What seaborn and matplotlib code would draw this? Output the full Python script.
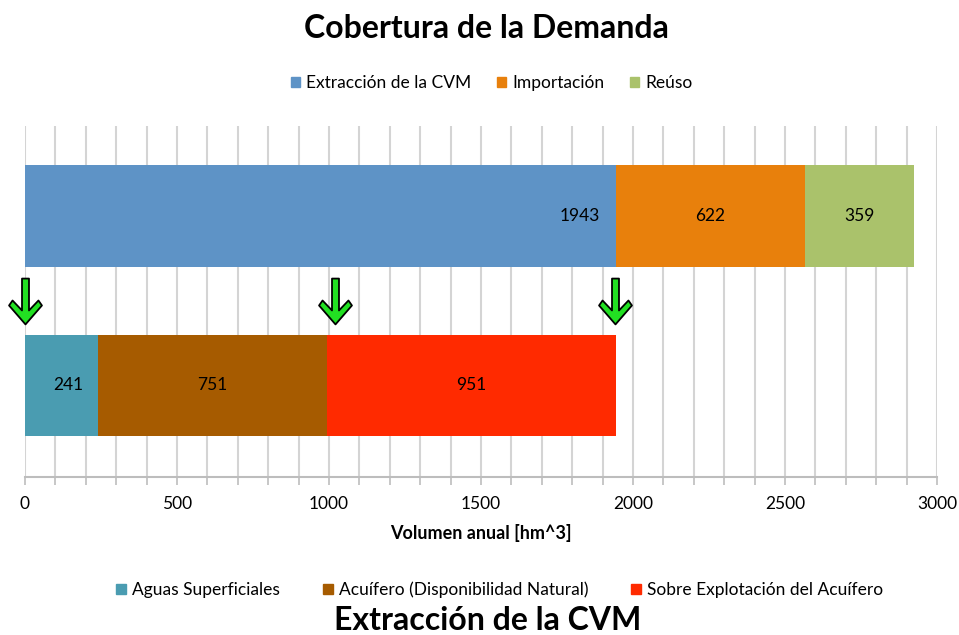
import numpy as np
import pandas as pd
import matplotlib
matplotlib.use("Agg")
import matplotlib.pyplot as plt
from matplotlib.path import Path
from matplotlib.ticker import MultipleLocator
import seaborn as sns

# ---- data ----
rows = ["Cobertura de la Demanda", "Extracción de la CVM"]
cob_labels = ["Extracción de la CVM", "Importación", "Reúso"]
cob_values = [1943, 622, 359]
ext_labels = ["Aguas Superficiales", "Acuífero (Disponibilidad Natural)", "Sobre Explotación del Acuífero"]
ext_values = [241, 751, 951]
arrow_x = [0, 1020, 1940]
x_ticks = [0, 500, 1000, 1500, 2000, 2500, 3000]

cob_colors = ["#5E93C6", "#E8800C", "#AAC26B"]
ext_colors = ["#4A9CB1", "#A65B00", "#FF2A00"]

sns.set_theme(style="white")
plt.rcParams["font.family"] = ["Lato", "DejaVu Sans"]
plt.rcParams["text.color"] = "black"
plt.rcParams["axes.labelcolor"] = "black"
plt.rcParams["xtick.labelcolor"] = "black"

fig = plt.figure(figsize=(9.59, 6.35), dpi=100)
ax = fig.add_axes([25 / 959, 1 - 477 / 635, 912 / 959, 351 / 635])

ax.xaxis.set_minor_locator(MultipleLocator(100))
ax.set_xticks(x_ticks)
ax.grid(True, axis="x", which="both", color="#d4d4d4", lw=1.5, zorder=0)
ax.set_axisbelow(True)

def draw_row(row, labels, values, colors, first_inside_end):
    cum = np.cumsum(values)
    for i in range(len(values) - 1, -1, -1):
        df = pd.DataFrame({"v": [cum[i]], "row": [row]})
        sns.barplot(data=df, x="v", y="row", order=rows, color=colors[i],
                    saturation=1, width=0.6, orient="y", ax=ax,
                    edgecolor="none", linewidth=0, zorder=2)
    starts = np.concatenate([[0], cum[:-1]])
    yi = rows.index(row)
    for i, (s, v) in enumerate(zip(starts, values)):
        if i == 0 and first_inside_end:
            ax.annotate(str(v), xy=(s + v, yi), xytext=(-11, 0),
                        textcoords="offset points", ha="right", va="center",
                        fontsize=12.5, color="black", zorder=5)
        else:
            ax.text(s + v / 2, yi, str(v), ha="center", va="center",
                    fontsize=12.5, color="black", zorder=5)
    return [plt.Rectangle((0, 0), 1, 1, color=c) for c in colors]

h1 = draw_row(rows[0], cob_labels, cob_values, cob_colors, True)
h2 = draw_row(rows[1], ext_labels, ext_values, ext_colors, True)

ax.set_xlim(0, 3000)
ax.set_ylim(1.54, -0.53)
ax.set_ylabel("")
ax.set_yticks([])
ax.set_xlabel("Volumen anual [hm^3]", fontsize=13, fontweight="bold", labelpad=8,
              color="black")
for sp in ["top", "right", "left"]:
    ax.spines[sp].set_visible(False)
ax.spines["bottom"].set_color("#bdbdbd")
ax.spines["bottom"].set_linewidth(1.5)
ax.tick_params(axis="x", which="both", bottom=True, length=6, width=1.2,
               color="#bdbdbd", labelsize=12.5, pad=8, labelcolor="black")

# arrows
verts = [(-3.5, 23), (3.5, 23), (3.5, -9), (13, 1), (16.5, -4), (0, -23),
         (-16.5, -4), (-13, 1), (-3.5, -9), (-3.5, 23)]
codes = [Path.MOVETO] + [Path.LINETO] * (len(verts) - 2) + [Path.CLOSEPOLY]
arrow_marker = Path(verts, codes)
for xa in arrow_x:
    ax.plot([xa], [0.5], marker=arrow_marker, markersize=33, mfc="#22E022",
            mec="black", mew=1.3, ls="none", zorder=6, clip_on=False)

fig.text(0.507, 1 - 28 / 635, "Cobertura de la Demanda", ha="center", va="center",
         fontsize=23, fontweight="bold", color="black")
fig.text(0.509, 1 - 621 / 635, "Extracción de la CVM", ha="center", va="center",
         fontsize=23, fontweight="bold", color="black")

leg_kw = dict(frameon=False, loc="center", handlelength=0.55, handleheight=0.55,
              handletextpad=0.35, fontsize=12.5, borderaxespad=0, labelcolor="black")
fig.legend(h1, cob_labels, ncol=3, bbox_to_anchor=(0.5125, 1 - 83 / 635),
           columnspacing=1.45, **leg_kw)
fig.legend(h2, ext_labels, ncol=3, bbox_to_anchor=(0.521, 1 - 590 / 635),
           columnspacing=2.5, **leg_kw)

fig.savefig("out.png", dpi=100)
